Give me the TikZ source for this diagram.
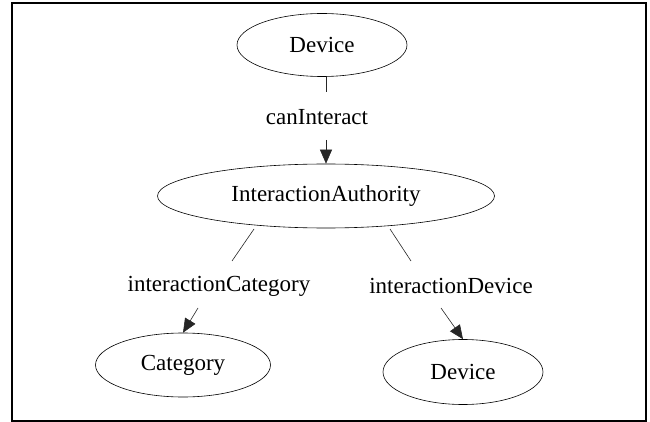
\documentclass[tikz,border=0pt]{standalone}
\usepackage{fontspec}
\setmainfont{Liberation Serif}
\usepackage{tikz}
\usetikzlibrary{arrows.meta, positioning, shapes.geometric}

\begin{document}
\begin{tikzpicture}[
    x=1pt, y=-1pt,
    concept/.style={ellipse, draw, line width=0.6pt, inner sep=0pt, font=\fontsize{23}{27}\selectfont},
    label/.style={font=\fontsize{23}{27}\selectfont, inner sep=0pt},
    line/.style={line width=0.6pt, draw=black!85},
    arrow/.style={line, -{Triangle[length=14pt, width=12pt]}}
]
    \useasboundingbox (0,0) rectangle (650,422);
    \draw[line width=2pt] (12,3.5) rectangle (646,420.5);

    % Concepts
    \node[concept, minimum width=170pt, minimum height=63pt] (dev_top) at (322,45) {Device};
    \node[concept, minimum width=337pt, minimum height=64pt] (auth) at (326,196) {InteractionAuthority};
    \node[concept, minimum width=175pt, minimum height=64pt] (cat) at (183,365) {Category};
    \node[concept, minimum width=160pt, minimum height=65pt] (dev_bot) at (463,372) {Device};

    % Edge labels
    \node[label] (can) at (317,117) {canInteract};
    \node[label] (icat) at (219,286) {interactionCategory};
    \node[label] (idev) at (451,286) {interactionDevice};

    % Breaks round the labels
    \coordinate (can_in) at (326,92);
    \coordinate (can_out) at (326,140);
    \coordinate (icat_from) at (254,229);
    \coordinate (icat_in) at (232,261);
    \coordinate (icat_out) at (198,308);
    \coordinate (idev_from) at (390,229);
    \coordinate (idev_in) at (411,261);
    \coordinate (idev_out) at (441,308);

    % Arrows
    \draw[line] (dev_top.south -| auth.north) -- (can_in);
    \draw[arrow] (can_out) -- (auth.north);
    \draw[line] (icat_from) -- (icat_in);
    \draw[arrow] (icat_out) -- (cat.north);
    \draw[line] (idev_from) -- (idev_in);
    \draw[arrow] (idev_out) -- (dev_bot.north);
\end{tikzpicture}
\end{document}
